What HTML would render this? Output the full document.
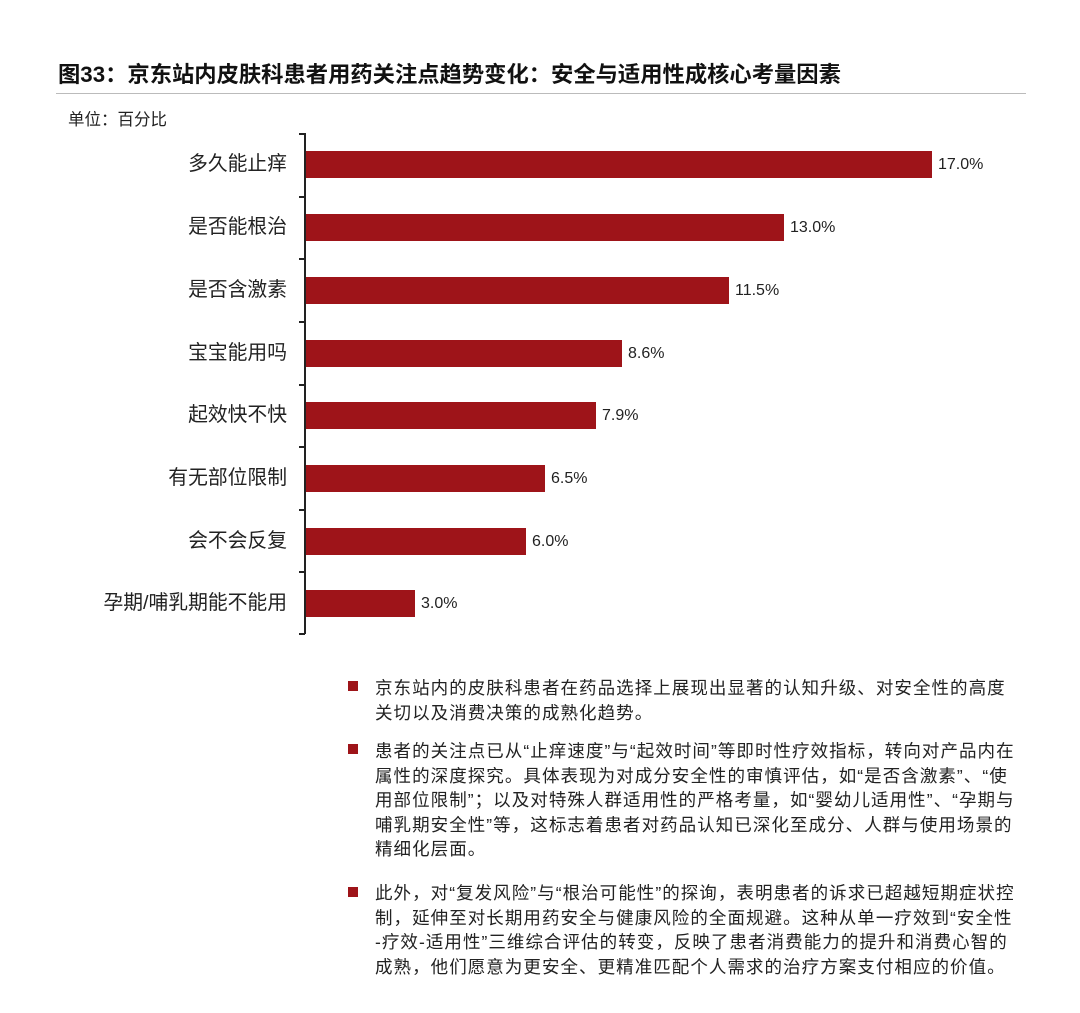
<!DOCTYPE html>
<html><head><meta charset="utf-8"><style>
body{margin:0;width:1080px;height:1013px;background:#fff;position:relative;font-family:"Liberation Sans","Noto Sans CJK SC",sans-serif;color:#222;overflow:hidden}
.a{position:absolute;white-space:nowrap}
.t{left:58px;top:57px;font-size:22.3px;font-weight:bold;color:#111}
.hr{left:56px;top:93px;width:970px;height:1px;background:#bbb}
.u{left:68px;top:106px;font-size:16.5px}
.lab{right:793px;font-size:19.8px;line-height:22px}
.bar{left:306px;height:27px;background:#9e1419}
.val{font-size:16px;line-height:20px}
.tk{left:299px;width:6px;height:1.5px;background:#222}
.bl{left:375px;font-size:17.5px;letter-spacing:1.05px;line-height:24.5px;color:#222}
.sq{left:348px;width:10px;height:10px;background:#9e1419}
</style></head><body>
<div class="a t">图33：京东站内皮肤科患者用药关注点趋势变化：安全与适用性成核心考量因素</div>
<div class="a hr"></div>
<div class="a u">单位：百分比</div>
<div class="a" style="left:304px;top:133px;width:1.5px;height:501px;background:#222"></div>
<div class="a tk" style="top:133px"></div><div class="a tk" style="top:196px"></div><div class="a tk" style="top:258px"></div><div class="a tk" style="top:321px"></div><div class="a tk" style="top:384px"></div><div class="a tk" style="top:446px"></div><div class="a tk" style="top:509px"></div><div class="a tk" style="top:571px"></div><div class="a tk" style="top:633px"></div>

<div class="a lab" style="top:153px">多久能止痒</div><div class="a bar" style="top:151px;width:626px"></div><div class="a val" style="left:938px;top:155px">17.0%</div>
<div class="a lab" style="top:216px">是否能根治</div><div class="a bar" style="top:214px;width:478px"></div><div class="a val" style="left:790px;top:218px">13.0%</div>
<div class="a lab" style="top:279px">是否含激素</div><div class="a bar" style="top:277px;width:423px"></div><div class="a val" style="left:735px;top:281px">11.5%</div>
<div class="a lab" style="top:342px">宝宝能用吗</div><div class="a bar" style="top:340px;width:316px"></div><div class="a val" style="left:628px;top:344px">8.6%</div>
<div class="a lab" style="top:404px">起效快不快</div><div class="a bar" style="top:402px;width:290px"></div><div class="a val" style="left:602px;top:406px">7.9%</div>
<div class="a lab" style="top:467px">有无部位限制</div><div class="a bar" style="top:465px;width:239px"></div><div class="a val" style="left:551px;top:469px">6.5%</div>
<div class="a lab" style="top:530px">会不会反复</div><div class="a bar" style="top:528px;width:220px"></div><div class="a val" style="left:532px;top:532px">6.0%</div>
<div class="a lab" style="top:592px">孕期/哺乳期能不能用</div><div class="a bar" style="top:590px;width:109px"></div><div class="a val" style="left:421px;top:594px">3.0%</div>

<div class="a sq" style="top:681px"></div>
<div class="a bl" style="top:676px">京东站内的皮肤科患者在药品选择上展现出显著的认知升级、对安全性的高度<br>关切以及消费决策的成熟化趋势。</div>
<div class="a sq" style="top:744px"></div>
<div class="a bl" style="top:739px">患者的关注点已从“止痒速度”与“起效时间”等即时性疗效指标，转向对产品内在<br>属性的深度探究。具体表现为对成分安全性的审慎评估，如“是否含激素”、“使<br>用部位限制”；以及对特殊人群适用性的严格考量，如“婴幼儿适用性”、“孕期与<br>哺乳期安全性”等，这标志着患者对药品认知已深化至成分、人群与使用场景的<br>精细化层面。</div>
<div class="a sq" style="top:887px"></div>
<div class="a bl" style="top:881px">此外，对“复发风险”与“根治可能性”的探询，表明患者的诉求已超越短期症状控<br>制，延伸至对长期用药安全与健康风险的全面规避。这种从单一疗效到“安全性<br>-疗效-适用性”三维综合评估的转变，反映了患者消费能力的提升和消费心智的<br>成熟，他们愿意为更安全、更精准匹配个人需求的治疗方案支付相应的价值。</div>
</body></html>
